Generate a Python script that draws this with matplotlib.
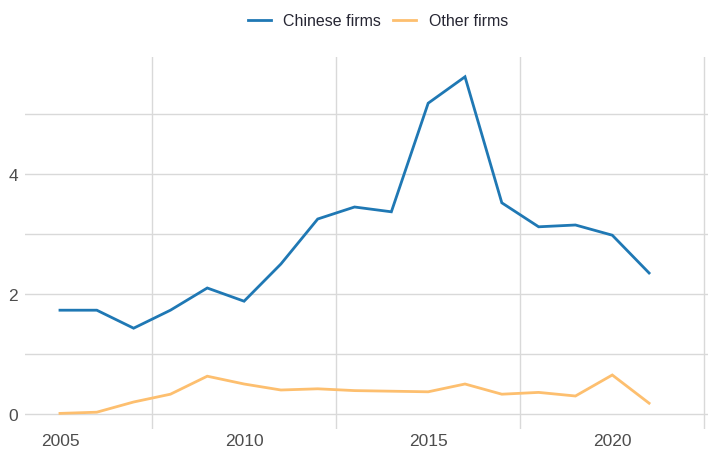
import matplotlib
matplotlib.use("Agg")
import matplotlib.pyplot as plt
from matplotlib.ticker import FixedLocator
from matplotlib.lines import Line2D

years = list(range(2005, 2022))
chinese = [1.73, 1.73, 1.43, 1.73, 2.10, 1.88, 2.50, 3.25, 3.45, 3.37,
           5.18, 5.62, 3.52, 3.12, 3.15, 2.98, 2.35]
other = [0.01, 0.03, 0.20, 0.33, 0.63, 0.50, 0.40, 0.42, 0.39, 0.38,
         0.37, 0.50, 0.33, 0.36, 0.30, 0.65, 0.18]
labels = ["Chinese firms", "Other firms"]
colors = ["#1f78b4", "#fdbf6f"]

plt.rcParams['font.family'] = ['Liberation Sans', 'DejaVu Sans']

W, H = 708, 452
fig = plt.figure(figsize=(W / 100, H / 100), dpi=100)
ax = fig.add_axes([25 / W, (H - 430) / H, (708 - 25) / W, (430 - 58) / H])

ax.plot(years, chinese, color=colors[0], lw=2.0, solid_joinstyle='miter')
ax.plot(years, other, color=colors[1], lw=2.0, solid_joinstyle='miter')

ax.set_xlim(2004.05, 2022.6)
ax.set_ylim(-0.25, 5.95)

ax.xaxis.set_major_locator(FixedLocator([2005, 2010, 2015, 2020]))
ax.xaxis.set_minor_locator(FixedLocator([2007.5, 2012.5, 2017.5, 2022.5]))
ax.yaxis.set_major_locator(FixedLocator([0, 2, 4]))
ax.yaxis.set_minor_locator(FixedLocator([1, 3, 5]))

grid_c = "#d9d9d9"
ax.grid(False)
ax.grid(True, which='minor', axis='x', color=grid_c, lw=1.0)
ax.grid(True, which='both', axis='y', color=grid_c, lw=1.0)
ax.set_axisbelow(True)

for s in ax.spines.values():
    s.set_visible(False)
ax.tick_params(which='both', length=0)
ax.tick_params(axis='both', labelsize=12.5, labelcolor="#4d4d4d")
ax.tick_params(axis='x', pad=3)
ax.tick_params(axis='y', pad=5)

handles = [Line2D([0], [0], color=c, lw=2.0) for c in colors]
fig.legend(handles, labels, loc='center', bbox_to_anchor=(378 / W, 1 - 22 / H),
           ncol=2, frameon=False, fontsize=11.5, handlelength=1.45,
           columnspacing=0.75, handletextpad=0.8, labelcolor="#262633")

fig.savefig("out.png", dpi=100)
